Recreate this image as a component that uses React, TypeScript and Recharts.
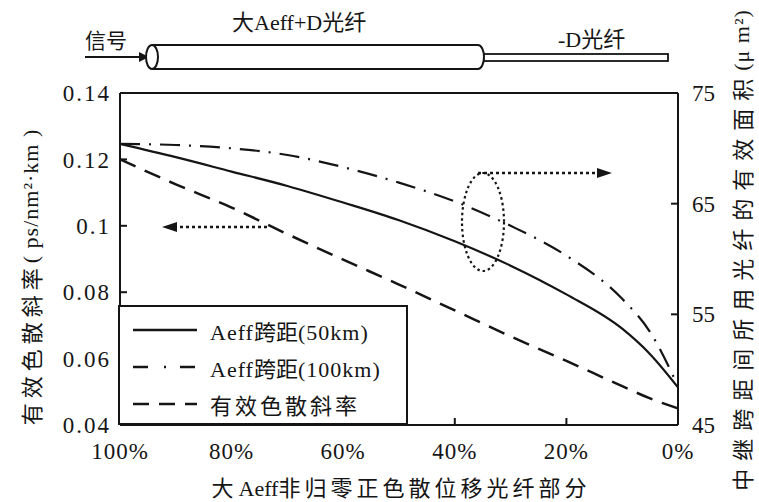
import React from "react";
import {
  LineChart,
  Line,
  XAxis,
  YAxis,
  Legend,
  ReferenceLine,
} from "recharts";

// fraction of large-Aeff NZDSF fibre in the span (%)
const pct = [100, 90, 80, 70, 60, 50, 40, 30, 20, 10, 5, 0];
// effective area, span 50 km (um^2) - right axis
const aeff50 = [70.4, 69.2, 67.9, 66.6, 65.1, 63.5, 61.6, 59.4, 56.8, 53.7, 51.4, 48.4];
// effective area, span 100 km (um^2) - right axis
const aeff100 = [70.4, 70.3, 70.0, 69.4, 68.3, 66.9, 65.2, 63.0, 60.3, 56.4, 53.4, 48.5];
// effective dispersion slope (ps/nm^2.km) - left axis
const slope = [0.12, 0.1125, 0.1055, 0.0975, 0.0898, 0.0823, 0.0745, 0.0667, 0.0593, 0.0517, 0.048, 0.045];

const xTicks = [100, 80, 60, 40, 20, 0];
const leftTicks = [0.04, 0.06, 0.08, 0.1, 0.12, 0.14];
const rightTicks = [45, 55, 65, 75];

const data = pct.map((p, i) => ({
  pct: p,
  aeff50: aeff50[i],
  aeff100: aeff100[i],
  slope: slope[i],
}));

const INK = "#151515";
const SERIF = "Liberation Serif, Times New Roman, DejaVu Serif, serif";
const CJK = "Noto Sans CJK SC, sans-serif";

const DASH_DOT = "20 9 2 9";
const DASHED = "17 10";

const LegendBox = () => {
  const rows = [
    { label: "Aeff", cjk: "跨距", tail: "(50km)", dash: undefined },
    { label: "Aeff", cjk: "跨距", tail: "(100km)", dash: "15 16 2 14" },
    { label: "", cjk: "有效色散斜率", tail: "", dash: "16 10" },
  ];
  return (
    <div
      style={{
        width: 290,
        height: 120,
        boxSizing: "border-box",
        border: `2px solid ${INK}`,
        background: "#fff",
        paddingTop: 4,
      }}
    >
      {rows.map((r, i) => (
        <div
          key={i}
          style={{ display: "flex", alignItems: "center", height: 37, paddingLeft: 13 }}
        >
          <svg width={66} height={10} style={{ marginRight: 11 }}>
            <line
              x1={0}
              y1={5}
              x2={64}
              y2={5}
              stroke={INK}
              strokeWidth={2.4}
              strokeDasharray={r.dash}
            />
          </svg>
          <span style={{ fontSize: 22, color: INK, whiteSpace: "nowrap" }}>
            <span style={{ fontFamily: SERIF, letterSpacing: 1 }}>{r.label}</span>
            <span style={{ fontFamily: CJK, letterSpacing: r.label ? 0 : 3 }}>{r.cjk}</span>
            <span style={{ fontFamily: SERIF, letterSpacing: 1 }}>{r.tail}</span>
          </span>
        </div>
      ))}
    </div>
  );
};

const Overlay = () => (
  <svg
    width={759}
    height={502}
    style={{ position: "absolute", left: 0, top: 0, pointerEvents: "none" }}
  >
    {/* fibre schematic */}
    <text x={85} y={48} fontFamily={CJK} fontSize={21} fill={INK}>
      信号
    </text>
    <line x1={85} y1={57} x2={141} y2={57} stroke={INK} strokeWidth={2} />
    <polygon points="139,52 149,57 139,62" fill={INK} />
    <path
      d="M152,45 L478,45 A6,12 0 0 1 478,69 L152,69"
      fill="#fff"
      stroke={INK}
      strokeWidth={2}
    />
    <ellipse cx={152} cy={57} rx={6} ry={12} fill="#fff" stroke={INK} strokeWidth={2} />
    <rect x={484} y={54} width={184} height={7} fill="#fff" stroke={INK} strokeWidth={1.8} />
    <text x={232} y={30} fontSize={22} fill={INK}>
      <tspan fontFamily={CJK}>大</tspan>
      <tspan fontFamily={SERIF}>Aeff+D</tspan>
      <tspan fontFamily={CJK}>光纤</tspan>
    </text>
    <text x={558} y={47} fontSize={22} fill={INK}>
      <tspan fontFamily={SERIF}>-D</tspan>
      <tspan fontFamily={CJK}>光纤</tspan>
    </text>

    {/* annotation arrows */}
    <line
      x1={267}
      y1={227}
      x2={174}
      y2={227}
      stroke={INK}
      strokeWidth={2.5}
      strokeDasharray="3 3"
    />
    <polygon points="162,227 177,222 177,232" fill={INK} />
    <ellipse
      cx={483}
      cy={222}
      rx={21}
      ry={49}
      fill="none"
      stroke={INK}
      strokeWidth={2.2}
      strokeDasharray="2.5 3"
    />
    <line
      x1={478}
      y1={173}
      x2={600}
      y2={173}
      stroke={INK}
      strokeWidth={2.5}
      strokeDasharray="3 3"
    />
    <polygon points="612,173 597,168 597,178" fill={INK} />

    {/* axis titles */}
    <text
      transform="translate(30,277) rotate(-90)"
      textAnchor="middle"
      dominantBaseline="central"
      fontSize={22}
      fill={INK}
    >
      <tspan fontFamily={CJK} letterSpacing={5}>有效色散斜率</tspan>
      <tspan fontFamily={SERIF} letterSpacing={1}>( ps/nm²·km )</tspan>
    </text>
    <text
      transform="translate(741,250) rotate(-90)"
      textAnchor="middle"
      dominantBaseline="central"
      fontSize={22}
      fill={INK}
    >
      <tspan fontFamily={CJK} letterSpacing={8}>中继跨距间所用光纤的有效面积</tspan>
      <tspan fontFamily={SERIF} letterSpacing={1}>(μ m²)</tspan>
    </text>
    <text x={401} y={496} textAnchor="middle" fontSize={22} fill={INK}>
      <tspan fontFamily={CJK}>大 </tspan>
      <tspan fontFamily={SERIF}>Aeff</tspan>
      <tspan fontFamily={CJK} letterSpacing={4}>非归零正色散位移光纤部分</tspan>
    </text>
  </svg>
);

const tickStyle = { fill: INK, fontSize: 23, fontFamily: SERIF };

export default function App() {
  return (
    <div
      style={{
        position: "absolute",
        left: 0,
        top: 0,
        width: 759,
        height: 502,
        background: "#fff",
      }}
    >
      <LineChart
        width={759}
        height={502}
        data={data}
        margin={{ top: 93, right: 21, bottom: 27, left: 60 }}
      >
        <XAxis
          type="number"
          dataKey="pct"
          domain={[0, 100]}
          reversed
          ticks={xTicks}
          tickFormatter={(v) => `${v}%`}
          height={50}
          tickSize={-7}
          tickMargin={25}
          axisLine={{ stroke: INK, strokeWidth: 2 }}
          tickLine={{ stroke: INK, strokeWidth: 2 }}
          tick={{ ...tickStyle, letterSpacing: 1 }}
        />
        <YAxis
          yAxisId="left"
          domain={[0.04, 0.14]}
          ticks={leftTicks}
          width={60}
          tickSize={-7}
          tickMargin={16}
          axisLine={{ stroke: INK, strokeWidth: 2 }}
          tickLine={{ stroke: INK, strokeWidth: 2 }}
          tick={{ ...tickStyle, letterSpacing: 2 }}
        />
        <YAxis
          yAxisId="right"
          orientation="right"
          domain={[45, 75]}
          ticks={rightTicks}
          width={60}
          tickSize={-7}
          tickMargin={21}
          axisLine={{ stroke: INK, strokeWidth: 2 }}
          tickLine={{ stroke: INK, strokeWidth: 2 }}
          tick={tickStyle}
        />
        <ReferenceLine yAxisId="left" y={0.14} stroke={INK} strokeWidth={2} />
        <Line
          yAxisId="right"
          type="monotone"
          dataKey="aeff50"
          stroke={INK}
          strokeWidth={2.2}
          dot={false}
          isAnimationActive={false}
        />
        <Line
          yAxisId="right"
          type="monotone"
          dataKey="aeff100"
          stroke={INK}
          strokeWidth={2.2}
          strokeDasharray={DASH_DOT}
          dot={false}
          isAnimationActive={false}
        />
        <Line
          yAxisId="left"
          type="monotone"
          dataKey="slope"
          stroke={INK}
          strokeWidth={2.5}
          strokeDasharray={DASHED}
          dot={false}
          isAnimationActive={false}
        />
        <Legend
          layout="vertical"
          align="center"
          verticalAlign="middle"
          content={() => <LegendBox />}
          wrapperStyle={{ left: 118, top: 305, width: 290, height: 120 }}
        />
      </LineChart>
      <Overlay />
    </div>
  );
}
